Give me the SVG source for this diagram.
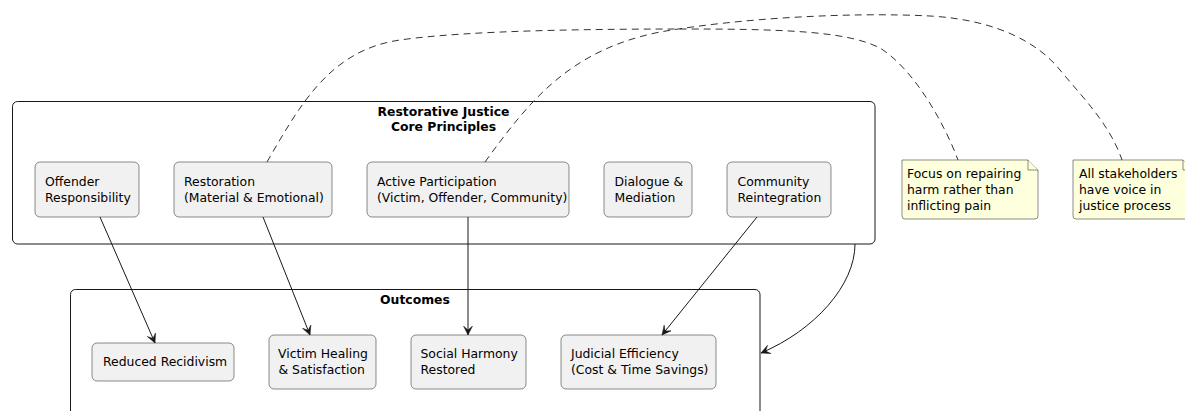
<svg xmlns="http://www.w3.org/2000/svg" width="1185" height="411" viewBox="0 0 1185 411">
<defs>
<style>
text{font-family:"DejaVu Sans","Liberation Sans",sans-serif;font-size:12.4px;fill:#000}
.title{font-weight:bold;text-anchor:middle}
.cont{fill:none;stroke:#181818;stroke-width:1}
.node{fill:#F1F1F1;stroke:#181818;stroke-width:0.5}
.note{fill:#FEFFDD;stroke:#181818;stroke-width:0.5}
.edge{fill:none;stroke:#181818;stroke-width:1}
.dash{fill:none;stroke:#333333;stroke-width:1;stroke-dasharray:7,5}
</style>
<marker id="ah" viewBox="0 0 10 10" refX="9" refY="5" markerWidth="10" markerHeight="10" markerUnits="userSpaceOnUse" orient="auto">
<path d="M0,0.5 L9,5 L0,9.5 L4,5 Z" fill="#181818" stroke="#181818" stroke-width="0.5"/>
</marker>
</defs>
<rect width="1185" height="411" fill="#FFFFFF"/>

<g id="principles">
<rect class="cont" x="12.5" y="101.5" width="862.5" height="142.5" rx="5"/>
<text class="title" x="443.5" y="115.5">Restorative Justice</text>
<text class="title" x="443.5" y="131">Core Principles</text>
</g>

<g id="outcomes">
<rect class="cont" x="70.5" y="289.5" width="689.5" height="150" rx="5"/>
<text class="title" x="415" y="304">Outcomes</text>
</g>

<g id="offender">
<rect class="node" x="35" y="162" width="104" height="55" rx="5"/>
<text x="45" y="186">Offender</text>
<text x="45" y="201.5">Responsibility</text>
</g>
<g id="restoration">
<rect class="node" x="174" y="162" width="158" height="55" rx="5"/>
<text x="184" y="186">Restoration</text>
<text x="184" y="201.5">(Material &amp; Emotional)</text>
</g>
<g id="participation">
<rect class="node" x="367" y="162" width="202" height="55" rx="5"/>
<text x="377" y="186">Active Participation</text>
<text x="377" y="201.5">(Victim, Offender, Community)</text>
</g>
<g id="dialogue">
<rect class="node" x="604" y="162" width="88" height="55" rx="5"/>
<text x="614.5" y="186">Dialogue &amp;</text>
<text x="614.5" y="201.5">Mediation</text>
</g>
<g id="reintegration">
<rect class="node" x="727" y="162" width="104" height="55" rx="5"/>
<text x="737.5" y="186">Community</text>
<text x="737.5" y="201.5">Reintegration</text>
</g>

<g id="recidivism">
<rect class="node" x="92" y="343" width="142" height="38" rx="5"/>
<text x="103" y="366">Reduced Recidivism</text>
</g>
<g id="healing">
<rect class="node" x="269" y="335" width="107" height="54" rx="5"/>
<text x="278" y="358">Victim Healing</text>
<text x="278.5" y="373.5">&amp; Satisfaction</text>
</g>
<g id="harmony">
<rect class="node" x="411" y="335" width="115" height="54" rx="5"/>
<text x="420.5" y="358">Social Harmony</text>
<text x="420.5" y="373.5">Restored</text>
</g>
<g id="efficiency">
<rect class="node" x="561" y="335" width="155" height="54" rx="5"/>
<text x="571" y="358">Judicial Efficiency</text>
<text x="571" y="373.5">(Cost &amp; Time Savings)</text>
</g>

<g id="note1">
<path class="note" d="M902,160 L1028,160 L1038,170 L1038,216 Q1038,219 1035,219 L905,219 Q902,219 902,216 Z"/>
<path class="note" d="M1028,160 L1028,170 L1038,170" fill="none"/>
<text x="907" y="178">Focus on repairing</text>
<text x="907" y="194">harm rather than</text>
<text x="907" y="210">inflicting pain</text>
</g>
<g id="note2">
<path class="note" d="M1073,160 L1183,160 L1193,170 L1193,216 Q1193,219 1190,219 L1076,219 Q1073,219 1073,216 Z"/>
<path class="note" d="M1183,160 L1183,170 L1193,170" fill="none"/>
<text x="1079" y="178">All stakeholders</text>
<text x="1079" y="194">have voice in</text>
<text x="1079" y="210">justice process</text>
</g>

<g id="connectors">
<path class="edge" d="M100,217 L155,343" marker-end="url(#ah)"/>
<path class="edge" d="M263,217 L310,335" marker-end="url(#ah)"/>
<path class="edge" d="M468,217 L468,335" marker-end="url(#ah)"/>
<path class="edge" d="M757,217 L662,335" marker-end="url(#ah)"/>
<path class="edge" d="M855,244 C855,285 815,330 761,353" marker-end="url(#ah)"/>
<path class="dash" d="M267,162 C300,105 330,50 400,40 C470,30 600,29 690,29 C800,29 850,33 880,48 C915,70 945,125 958,160"/>
<path class="dash" d="M485,162 C530,100 570,50 660,32 C740,18 850,12 930,16 C1000,20 1040,45 1060,70 C1085,100 1110,125 1122,160"/>
</g>
</svg>
